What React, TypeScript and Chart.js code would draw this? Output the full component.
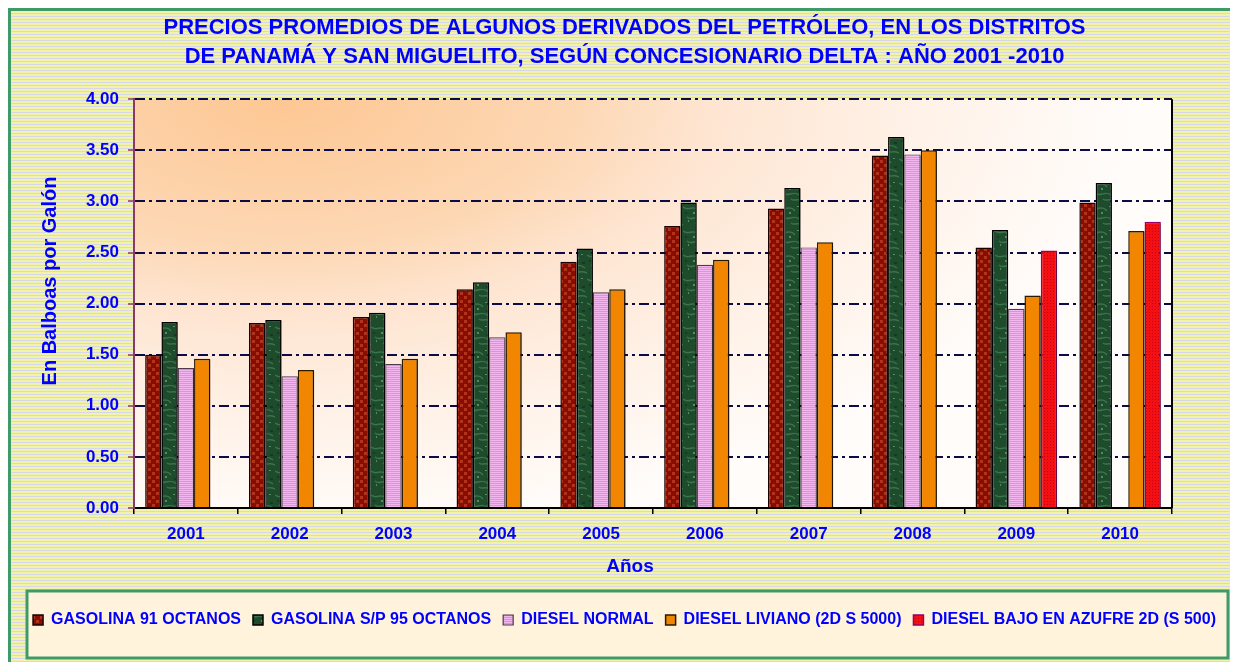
import React, { useEffect, useRef } from 'react';
import { Chart, registerables } from 'chart.js';

Chart.register(...registerables);

const years = ['2001', '2002', '2003', '2004', '2005', '2006', '2007', '2008', '2009', '2010'];

const gasolina91 = [1.5, 1.81, 1.87, 2.14, 2.41, 2.76, 2.93, 3.45, 2.55, 2.99];
const gasolina95 = [1.82, 1.84, 1.91, 2.21, 2.54, 2.99, 3.13, 3.63, 2.72, 3.18];
const dieselNormal = [1.37, 1.29, 1.41, 1.67, 2.11, 2.38, 2.55, 3.46, 1.95, null];
const dieselLiviano = [1.46, 1.35, 1.46, 1.72, 2.14, 2.43, 2.6, 3.5, 2.08, 2.71];
const dieselBajo = [null, null, null, null, null, null, null, null, 2.52, 2.8];

const seriesNames = [
  'GASOLINA 91 OCTANOS',
  'GASOLINA S/P 95 OCTANOS',
  'DIESEL NORMAL',
  'DIESEL LIVIANO (2D S 5000)',
  'DIESEL BAJO EN AZUFRE 2D (S 500)',
];

const titleLines = [
  'PRECIOS PROMEDIOS DE ALGUNOS DERIVADOS DEL PETRÓLEO, EN LOS DISTRITOS',
  'DE PANAMÁ Y SAN MIGUELITO, SEGÚN CONCESIONARIO DELTA : AÑO 2001 -2010',
];
const yTitle = 'En Balboas por Galón';
const xTitle = 'Años';

const BLUE = '#0000FF';
const FONT = '"Liberation Sans", Arial, sans-serif';

function makePattern(w: number, h: number, draw: (g: CanvasRenderingContext2D) => void) {
  const c = document.createElement('canvas');
  c.width = w;
  c.height = h;
  const g = c.getContext('2d')!;
  draw(g);
  return g.createPattern(c, 'repeat')!;
}

function makePatterns() {
  const red = makePattern(8, 8, (g) => {
    g.fillStyle = '#880C00';
    g.fillRect(0, 0, 8, 8);
    g.fillStyle = '#B0341C';
    g.fillRect(1, 1, 3, 3);
    g.fillRect(5, 5, 3, 3);
  });
  const green = makePattern(24, 24, (g) => {
    g.fillStyle = '#1E4B2B';
    g.fillRect(0, 0, 24, 24);
    g.strokeStyle = '#3A744B';
    g.lineWidth = 1.5;
    g.beginPath();
    g.moveTo(0, 4);
    g.bezierCurveTo(6, 9, 10, 1, 16, 8);
    g.moveTo(4, 14);
    g.bezierCurveTo(9, 19, 14, 10, 22, 17);
    g.moveTo(12, 20);
    g.bezierCurveTo(15, 23, 18, 19, 24, 22);
    g.stroke();
    g.fillStyle = '#568C64';
    g.fillRect(10, 9, 2, 2);
    g.fillRect(18, 3, 2, 1);
    g.fillRect(5, 17, 1, 2);
    g.fillStyle = '#143A20';
    g.fillRect(19, 11, 3, 2);
    g.fillRect(2, 9, 2, 2);
  });
  const pink = makePattern(2, 2, (g) => {
    g.fillStyle = '#E68CE6';
    g.fillRect(0, 0, 2, 1);
    g.fillStyle = '#F4B6EE';
    g.fillRect(0, 1, 2, 1);
  });
  const orange = makePattern(4, 4, (g) => {
    g.fillStyle = '#F28600';
    g.fillRect(0, 0, 4, 4);
    g.fillStyle = '#B4A010';
    g.fillRect(0, 0, 1, 1);
    g.fillRect(2, 2, 1, 1);
  });
  const bright = makePattern(3, 3, (g) => {
    g.fillStyle = '#F41010';
    g.fillRect(0, 0, 3, 3);
    g.fillStyle = '#C4001C';
    g.fillRect(1, 1, 1, 1);
  });
  return { red, green, pink, orange, bright };
}

const bgPlugin = {
  id: 'bgPlugin',
  beforeDraw(chart: any) {
    const { ctx, chartArea } = chart;
    const { left, top, right, bottom } = chartArea;
    const w = right - left;
    const h = bottom - top;
    ctx.save();
    ctx.beginPath();
    ctx.rect(left, top, w, h);
    ctx.clip();
    const rx = 850;
    const ry = 430;
    ctx.translate(left + 150, top);
    ctx.scale(1, ry / rx);
    const grad = ctx.createRadialGradient(0, 0, 0, 0, 0, rx);
    grad.addColorStop(0, '#FDC793');
    grad.addColorStop(0.35, '#FDD8B5');
    grad.addColorStop(0.5, '#FEE5D1');
    grad.addColorStop(0.75, '#FFF2E8');
    grad.addColorStop(1, '#FFFCFA');
    ctx.fillStyle = grad;
    ctx.fillRect(-200, -10, w + 400, (h + 20) * (rx / ry));
    ctx.restore();
    // legend box
    ctx.save();
    ctx.fillStyle = '#FFF3DC';
    ctx.fillRect(16, 580, 1201, 67);
    ctx.strokeStyle = '#3E9B68';
    ctx.lineWidth = 3;
    ctx.strokeRect(16, 580, 1201, 67);
    ctx.restore();
  },
  beforeDatasetsDraw(chart: any) {
    const ctx = chart.ctx;
    ctx.save();
    ctx.shadowColor = 'rgba(0,0,0,0.3)';
    ctx.shadowOffsetX = 2;
    ctx.shadowOffsetY = 1;
    ctx.shadowBlur = 0;
  },
  afterDatasetsDraw(chart: any) {
    const ctx = chart.ctx;
    ctx.restore();
    const { top, bottom, right } = chart.chartArea;
    ctx.save();
    ctx.strokeStyle = '#000000';
    ctx.lineWidth = 2;
    ctx.beginPath();
    ctx.moveTo(right, top);
    ctx.lineTo(right, bottom);
    ctx.stroke();
    ctx.restore();
  },
  afterDraw(chart: any) {
    const ctx = chart.ctx;
    ctx.save();
    ctx.fillStyle = BLUE;
    ctx.font = `bold 20px ${FONT}`;
    ctx.textAlign = 'center';
    ctx.textBaseline = 'middle';
    ctx.save();
    ctx.translate(39, 270);
    ctx.rotate(-Math.PI / 2);
    ctx.fillText(yTitle, 0, 0);
    ctx.restore();
    ctx.font = `bold 19px ${FONT}`;
    ctx.fillText(xTitle, 619, 556);
    ctx.restore();
  },
};

export default function App() {
  const ref = useRef<HTMLCanvasElement>(null);

  useEffect(() => {
    const canvas = ref.current!;
    const p = makePatterns();
    const chart = new Chart(canvas, {
      type: 'bar',
      data: {
        labels: years,
        datasets: [
          { label: seriesNames[0], data: gasolina91, backgroundColor: p.red, borderColor: '#1A0000', borderWidth: 1.5 },
          { label: seriesNames[1], data: gasolina95, backgroundColor: p.green, borderColor: '#000000', borderWidth: 1.5 },
          { label: seriesNames[2], data: dieselNormal as any, backgroundColor: p.pink, borderColor: '#4A3A4A', borderWidth: 1.2 },
          { label: seriesNames[3], data: dieselLiviano, backgroundColor: p.orange, borderColor: '#2A1A00', borderWidth: 1.5 },
          { label: seriesNames[4], data: dieselBajo as any, backgroundColor: p.bright, borderColor: '#990066', borderWidth: 1.5 },
        ],
      },
      options: {
        animation: false,
        responsive: true,
        maintainAspectRatio: false,
        layout: { padding: { top: 0, left: 0, right: 0, bottom: 24 } },
        datasets: {
          bar: { categoryPercentage: 0.785, barPercentage: 1 },
        },
        plugins: {
          title: {
            display: true,
            text: titleLines,
            color: BLUE,
            font: { family: FONT, size: 22, weight: 'bold', lineHeight: 1.3 },
            padding: { top: 3, bottom: 28 },
          },
          legend: {
            position: 'bottom',
            labels: {
              color: BLUE,
              font: { family: FONT, size: 16, weight: 'bold' },
              boxWidth: 10,
              boxHeight: 10,
              padding: 12,
            },
          },
          tooltip: { enabled: false },
        },
        scales: {
          x: {
            grid: {
              display: true,
              drawOnChartArea: false,
              color: '#000000',
              tickLength: 6,
              lineWidth: 1.5,
            },
            border: { color: '#000000', width: 2 },
            ticks: {
              color: BLUE,
              font: { family: FONT, size: 17, weight: 'bold' },
              padding: 10,
            },
            afterFit(scale: any) {
              scale.height = 92;
            },
          },
          y: {
            min: 0,
            max: 4,
            ticks: {
              stepSize: 0.5,
              color: BLUE,
              font: { family: FONT, size: 17, weight: 'bold' },
              padding: 9,
              callback: (v: any) => Number(v).toFixed(2),
            },
            grid: {
              color: '#0B0B4A',
              lineWidth: 2,
              tickColor: '#8B3A62',
              tickLength: 6,
              tickWidth: 1.5,
            },
            border: { color: '#8B3A62', width: 2, dash: [10, 4, 3, 4] },
            afterFit(scale: any) {
              scale.width = 123;
            },
          },
          y2: {
            position: 'right',
            display: true,
            ticks: { display: false },
            grid: { display: false },
            border: { display: false },
            afterFit(scale: any) {
              scale.width = 66;
            },
          },
        },
      } as any,
      plugins: [bgPlugin],
    });
    return () => chart.destroy();
  }, []);

  return (
    <div
      style={{
        width: 1230,
        height: 654,
        boxSizing: 'border-box',
        borderLeft: '3px solid #3E9B68',
        borderTop: '3px solid #3E9B68',
        background:
          'repeating-linear-gradient(180deg, #F3F3A8 0px, #F3F3A8 2px, #D6D6EC 2px, #D6D6EC 3px)',
      }}
    >
      <div style={{ position: 'relative', width: 1227, height: 651 }}>
        <canvas ref={ref} />
      </div>
    </div>
  );
}
